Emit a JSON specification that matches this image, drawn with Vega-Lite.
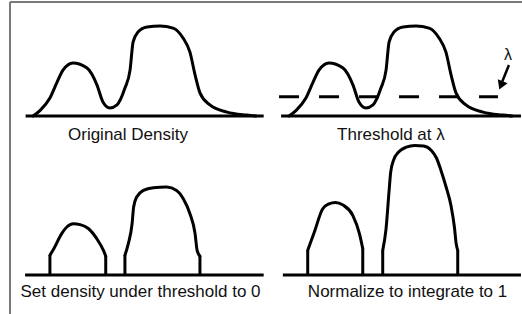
{
  "$schema": "https://vega.github.io/schema/vega-lite/v6.json",
  "padding": 0,
  "spacing": 0,
  "bounds": "flush",
  "align": "each",
  "columns": 2,
  "config": {
    "view": {"stroke": null},
    "text": {"font": "Liberation Sans", "fontSize": 17, "color": "#111", "align": "center", "baseline": "alphabetic"}
  },
  "concat": [
    {
      "width": 256,
      "height": 157,
      "encoding": {
        "x": {"field": "x", "type": "quantitative", "scale": {"domain": [-1, 9], "nice": false, "zero": false}, "axis": null},
        "y": {"field": "y", "type": "quantitative", "scale": {"domain": [-1.3667, 3.8667], "nice": false, "zero": false}, "axis": null}
      },
      "layer": [
        {
          "data": {"values": [{"x": -0.61, "y": -1.3667, "y2": 3.8}]},
          "mark": {"type": "rule", "color": "#7a7a7a", "strokeWidth": 2},
          "encoding": {"y2": {"field": "y2"}}
        },
        {
          "data": {"values": [{"x": -0.61, "x2": 9, "y": 3.8}]},
          "mark": {"type": "rule", "color": "#7a7a7a", "strokeWidth": 2},
          "encoding": {"x2": {"field": "x2"}}
        },
        {
          "data": {"values": [{"x": 0.0, "x2": 9.3, "y": 0}]},
          "mark": {"type": "rule", "color": "black", "strokeWidth": 3},
          "encoding": {"x2": {"field": "x2"}}
        },
        {
          "data": {"name": "density"},
          "mark": {"type": "line", "interpolate": "monotone", "color": "black", "strokeWidth": 3, "strokeCap": "round"},
          "encoding": {}
        },
        {
          "data": {"values": [{"x": 4.0, "y": -0.8, "t": "Original Density"}]},
          "mark": {"type": "text"},
          "encoding": {"text": {"field": "t"}}
        }
      ]
    },
    {
      "width": 266,
      "height": 157,
      "encoding": {
        "x": {"field": "x", "type": "quantitative", "scale": {"domain": [-1, 9.390625], "nice": false, "zero": false}, "axis": null},
        "y": {"field": "y", "type": "quantitative", "scale": {"domain": [-1.3667, 3.8667], "nice": false, "zero": false}, "axis": null}
      },
      "layer": [
        {
          "data": {"values": [{"x": -1, "x2": 9.390625, "y": 3.8}]},
          "mark": {"type": "rule", "color": "#7a7a7a", "strokeWidth": 2},
          "encoding": {"x2": {"field": "x2"}}
        },
        {
          "data": {"values": [{"x": -0.02, "x2": 9.35, "y": 0}]},
          "mark": {"type": "rule", "color": "black", "strokeWidth": 3},
          "encoding": {"x2": {"field": "x2"}}
        },
        {
          "data": {"values": [{"x": -0.1, "x2": 8.45, "y": 0.64}]},
          "mark": {"type": "rule", "color": "black", "strokeWidth": 3, "strokeDash": [20, 20]},
          "encoding": {"x2": {"field": "x2"}}
        },
        {
          "data": {"name": "density"},
          "mark": {"type": "line", "interpolate": "monotone", "color": "black", "strokeWidth": 3, "strokeCap": "round"},
          "encoding": {}
        },
        {
          "data": {"values": [{"x": 8.88, "y": 1.7, "x2": 8.62, "y2": 1.15}]},
          "mark": {"type": "rule", "color": "black", "strokeWidth": 2.5},
          "encoding": {"x2": {"field": "x2"}, "y2": {"field": "y2"}}
        },
        {
          "data": {"values": [{"x": 8.57, "y": 1.02}]},
          "mark": {"type": "point", "shape": "triangle-up", "filled": true, "color": "black", "opacity": 1, "size": 110, "angle": 202},
          "encoding": {}
        },
        {
          "data": {"values": [{"x": 8.84, "y": 1.87, "t": "λ"}]},
          "mark": {"type": "text", "fontSize": 16},
          "encoding": {"text": {"field": "t"}}
        },
        {
          "data": {"values": [{"x": 4.27, "y": -0.8, "t": "Threshold at λ"}]},
          "mark": {"type": "text"},
          "encoding": {"text": {"field": "t"}}
        }
      ]
    },
    {
      "width": 256,
      "height": 157,
      "encoding": {
        "x": {"field": "x", "type": "quantitative", "scale": {"domain": [-1, 9], "nice": false, "zero": false}, "axis": null},
        "y": {"field": "y", "type": "quantitative", "scale": {"domain": [-1.3, 3.9333], "nice": false, "zero": false}, "axis": null}
      },
      "layer": [
        {
          "data": {"values": [{"x": -0.61, "y": -1.3, "y2": 3.9333}]},
          "mark": {"type": "rule", "color": "#7a7a7a", "strokeWidth": 2},
          "encoding": {"y2": {"field": "y2"}}
        },
        {
          "data": {"values": [{"x": -0.02, "x2": 9.3, "y": 0}]},
          "mark": {"type": "rule", "color": "black", "strokeWidth": 3},
          "encoding": {"x2": {"field": "x2"}}
        },
        {
          "data": {"values": [
            {"x": 0.95, "y": 0, "y2": 0.66},
            {"x": 3.13, "y": 0, "y2": 0.63},
            {"x": 3.88, "y": 0, "y2": 0.66},
            {"x": 6.81, "y": 0, "y2": 0.63}
          ]},
          "mark": {"type": "rule", "color": "black", "strokeWidth": 3},
          "encoding": {"y2": {"field": "y2"}}
        },
        {
          "data": {"values": [
            {"seg": "a", "x": 0.95, "y": 0.66},
            {"seg": "a", "x": 1.08, "y": 0.84},
            {"seg": "a", "x": 1.41, "y": 1.38},
            {"seg": "a", "x": 1.61, "y": 1.6},
            {"seg": "a", "x": 1.86, "y": 1.71},
            {"seg": "a", "x": 2.13, "y": 1.68},
            {"seg": "a", "x": 2.45, "y": 1.55},
            {"seg": "a", "x": 2.78, "y": 1.21},
            {"seg": "a", "x": 3.04, "y": 0.82},
            {"seg": "a", "x": 3.13, "y": 0.63},
            {"seg": "b", "x": 3.88, "y": 0.66},
            {"seg": "b", "x": 4.01, "y": 1.04},
            {"seg": "b", "x": 4.16, "y": 1.71},
            {"seg": "b", "x": 4.22, "y": 2.27},
            {"seg": "b", "x": 4.34, "y": 2.6},
            {"seg": "b", "x": 4.6, "y": 2.82},
            {"seg": "b", "x": 4.99, "y": 2.91},
            {"seg": "b", "x": 5.51, "y": 2.93},
            {"seg": "b", "x": 5.9, "y": 2.82},
            {"seg": "b", "x": 6.16, "y": 2.54},
            {"seg": "b", "x": 6.42, "y": 2.04},
            {"seg": "b", "x": 6.62, "y": 1.38},
            {"seg": "b", "x": 6.7, "y": 0.82},
            {"seg": "b", "x": 6.81, "y": 0.63}
          ]},
          "mark": {"type": "line", "interpolate": "monotone", "color": "black", "strokeWidth": 3, "strokeCap": "round"},
          "encoding": {"detail": {"field": "seg"}}
        },
        {
          "data": {"values": [{"x": 4.49, "y": -0.73, "t": "Set density under threshold to 0"}]},
          "mark": {"type": "text"},
          "encoding": {"text": {"field": "t"}}
        }
      ]
    },
    {
      "width": 266,
      "height": 157,
      "encoding": {
        "x": {"field": "x", "type": "quantitative", "scale": {"domain": [-1, 9.390625], "nice": false, "zero": false}, "axis": null},
        "y": {"field": "y", "type": "quantitative", "scale": {"domain": [-1.3, 3.9333], "nice": false, "zero": false}, "axis": null}
      },
      "layer": [
        {
          "data": {"values": [{"x": 0.05, "x2": 9.35, "y": 0}]},
          "mark": {"type": "rule", "color": "black", "strokeWidth": 3},
          "encoding": {"x2": {"field": "x2"}}
        },
        {
          "data": {"values": [
            {"x": 1.02, "y": 0, "y2": 0.82},
            {"x": 3.17, "y": 0, "y2": 0.88},
            {"x": 3.95, "y": 0, "y2": 0.82},
            {"x": 6.88, "y": 0, "y2": 0.82}
          ]},
          "mark": {"type": "rule", "color": "black", "strokeWidth": 3},
          "encoding": {"y2": {"field": "y2"}}
        },
        {
          "data": {"values": [
            {"seg": "a", "x": 1.02, "y": 0.82},
            {"seg": "a", "x": 1.28, "y": 1.43},
            {"seg": "a", "x": 1.6, "y": 2.2},
            {"seg": "a", "x": 1.85, "y": 2.37},
            {"seg": "a", "x": 2.1, "y": 2.42},
            {"seg": "a", "x": 2.4, "y": 2.33},
            {"seg": "a", "x": 2.78, "y": 1.99},
            {"seg": "a", "x": 3.04, "y": 1.38},
            {"seg": "a", "x": 3.17, "y": 0.88},
            {"seg": "b", "x": 3.95, "y": 0.82},
            {"seg": "b", "x": 4.08, "y": 1.54},
            {"seg": "b", "x": 4.2, "y": 2.82},
            {"seg": "b", "x": 4.26, "y": 3.42},
            {"seg": "b", "x": 4.37, "y": 3.82},
            {"seg": "b", "x": 4.57, "y": 4.1},
            {"seg": "b", "x": 4.87, "y": 4.26},
            {"seg": "b", "x": 5.2, "y": 4.32},
            {"seg": "b", "x": 5.55, "y": 4.3},
            {"seg": "b", "x": 5.85, "y": 4.15},
            {"seg": "b", "x": 6.05, "y": 3.9},
            {"seg": "b", "x": 6.22, "y": 3.5},
            {"seg": "b", "x": 6.42, "y": 2.95},
            {"seg": "b", "x": 6.62, "y": 2.3},
            {"seg": "b", "x": 6.75, "y": 1.6},
            {"seg": "b", "x": 6.82, "y": 1.04},
            {"seg": "b", "x": 6.88, "y": 0.82}
          ]},
          "mark": {"type": "line", "interpolate": "monotone", "color": "black", "strokeWidth": 3, "strokeCap": "round"},
          "encoding": {"detail": {"field": "seg"}}
        },
        {
          "data": {"values": [{"x": 4.92, "y": -0.73, "t": "Normalize to integrate to 1"}]},
          "mark": {"type": "text"},
          "encoding": {"text": {"field": "t"}}
        }
      ]
    }
  ],
  "datasets": {
    "density": [
      {"x": 0.29, "y": 0},
      {"x": 0.56, "y": 0.18},
      {"x": 0.95, "y": 0.6},
      {"x": 1.23, "y": 1.13},
      {"x": 1.46, "y": 1.53},
      {"x": 1.85, "y": 1.77},
      {"x": 2.4, "y": 1.6},
      {"x": 2.79, "y": 1.03},
      {"x": 3.02, "y": 0.47},
      {"x": 3.3, "y": 0.27},
      {"x": 3.57, "y": 0.37},
      {"x": 3.88, "y": 0.93},
      {"x": 4.08, "y": 1.53},
      {"x": 4.2, "y": 2.47},
      {"x": 4.39, "y": 2.8},
      {"x": 4.74, "y": 2.97},
      {"x": 5.25, "y": 3.0},
      {"x": 5.76, "y": 2.93},
      {"x": 6.15, "y": 2.6},
      {"x": 6.42, "y": 2.13},
      {"x": 6.62, "y": 1.37},
      {"x": 6.81, "y": 0.77},
      {"x": 7.2, "y": 0.37},
      {"x": 7.87, "y": 0.13},
      {"x": 8.65, "y": 0.03},
      {"x": 9.0, "y": 0}
    ]
  }
}
